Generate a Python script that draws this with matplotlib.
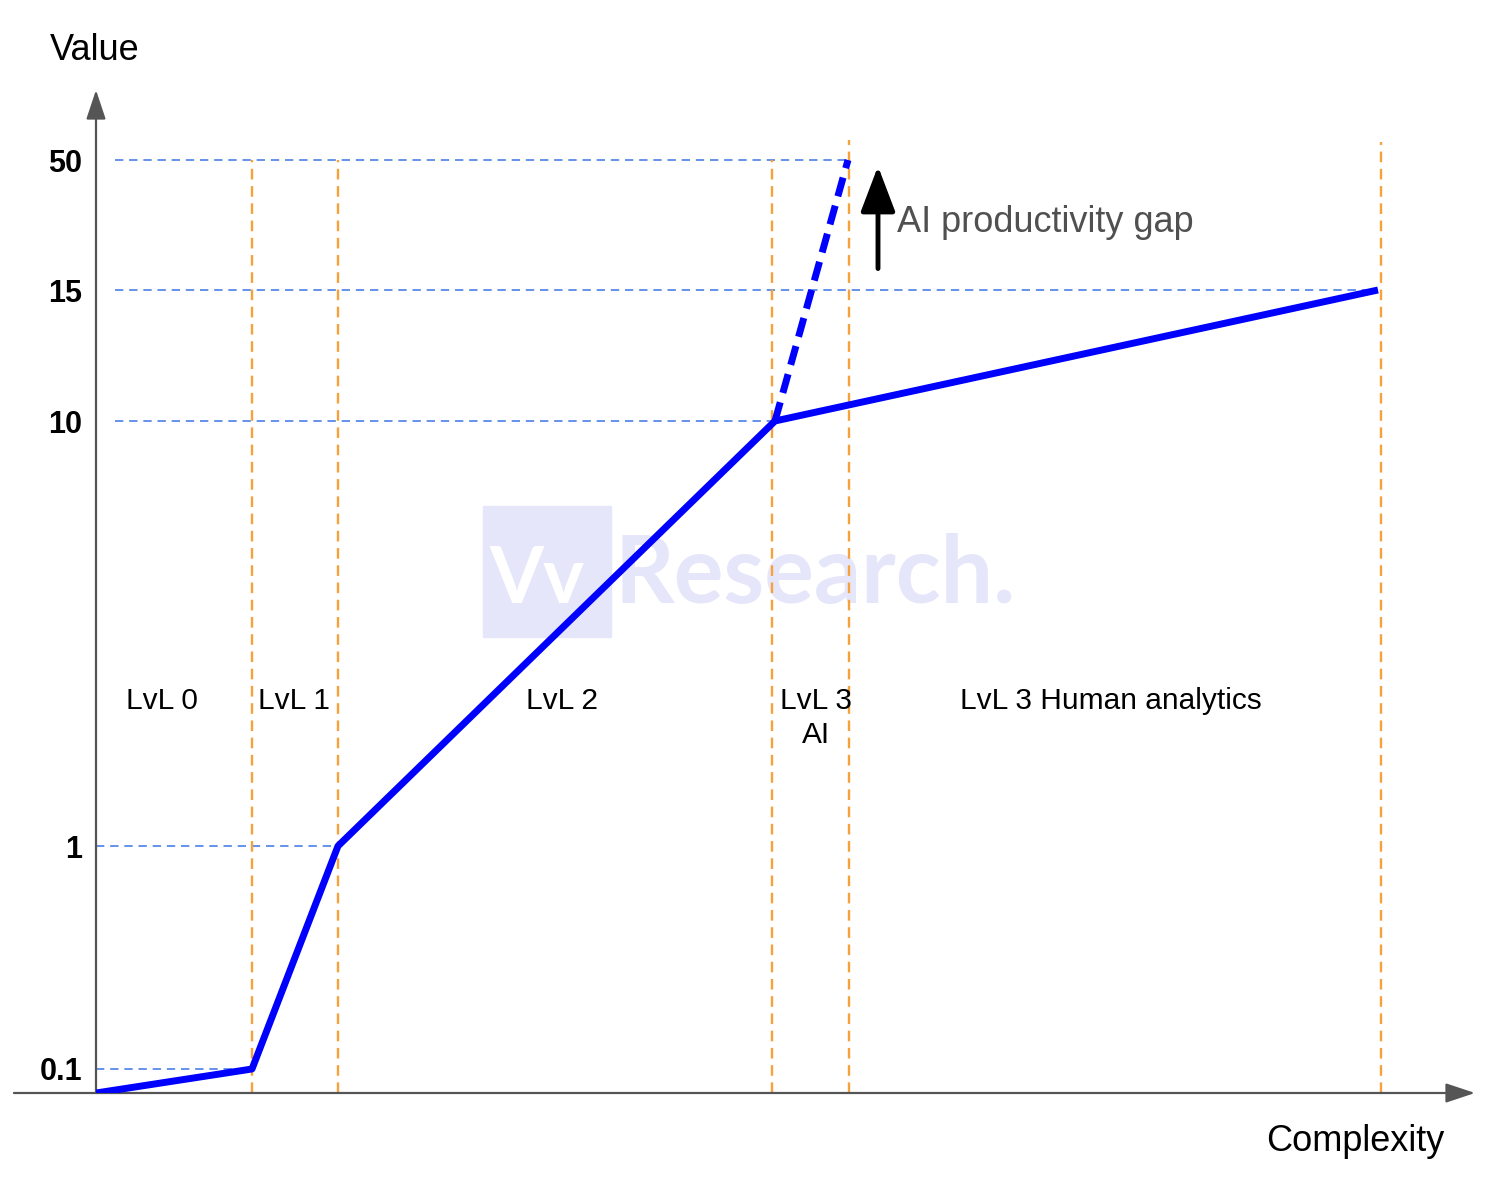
import matplotlib.pyplot as plt
import numpy as np
from matplotlib.patches import Rectangle
from matplotlib.transforms import blended_transform_factory

plt.rcParams['font.family'] = ['Liberation Sans', 'DejaVu Sans']

# data
complexity = [0, 156, 242, 679, 1282]
value = [0, 0.1, 1, 10, 15]
ai_complexity = [679, 752]
ai_value = [10, 50]
level_edges = [156, 242, 676, 753, 1285]
level_names = ['LvL 0', 'LvL 1', 'LvL 2', 'LvL 3\nAI', 'LvL 3 Human analytics']
level_centers = [66, 198, 466, 720, 1015]
tick_values = [0.1, 1, 10, 15, 50]

# hand-drawn (non-linear) value axis: value -> height
scale_vals = np.array([0, 0.1, 1, 10, 15, 50, 80])
scale_pos = np.array([0, 24, 247, 672, 803, 933, 1003])


def fwd(v):
    return np.interp(v, scale_vals, scale_pos)


def inv(p):
    return np.interp(p, scale_pos, scale_vals)


W, H = 1494, 1186
fig = plt.figure(figsize=(W / 100, H / 100), dpi=100)
ax = fig.add_axes([96 / W, (H - 1093) / H, 1379 / W, 1003 / H])
ax.set_yscale('function', functions=(fwd, inv))
ax.set_xlim(0, 1379)
ax.set_ylim(0, 80)
for s in ax.spines.values():
    s.set_visible(False)
ax.set_xticks([])
ax.set_yticks(tick_values)
ax.set_yticklabels([str(t) for t in tick_values], fontsize=22, fontweight='bold')
ax.tick_params(axis='y', length=0, pad=10)
ax.minorticks_off()
ax.set_facecolor('none')

guide_blue = '#4a7fe6'
guide_orange = '#f7a13a'

# blue horizontal guides
ax.plot([19, ai_complexity[1]], [50, 50], color=guide_blue, lw=1.2, ls=(0, (5, 3.5)))
ax.plot([19, complexity[4]], [15, 15], color=guide_blue, lw=1.2, ls=(0, (5, 3.5)))
ax.plot([19, complexity[3]], [10, 10], color=guide_blue, lw=1.2, ls=(0, (5, 3.5)))
ax.plot([0, complexity[2]], [1, 1], color=guide_blue, lw=1.2, ls=(0, (5, 3.5)))
ax.plot([0, complexity[1]], [0.1, 0.1], color=guide_blue, lw=1.2, ls=(0, (5, 3.5)))

# orange level boundaries
tops = [0.930, 0.930, 0.930, 0.950, 0.948]
for xe, t in zip(level_edges, tops):
    ax.axvline(xe, ymin=0, ymax=t, color=guide_orange, lw=1.7, ls=(0, (4.5, 2.8)))


# watermark (behind everything)
def px(x, y):
    return x / W, 1 - y / H


fig.patches.append(Rectangle(px(483, 637), 128 / W, 131 / H, transform=fig.transFigure,
                             color='#e6e6fa', zorder=-2))
fig.text(*px(489, 603), 'Vv', color='white', fontsize=56, fontweight='bold',
         family='Lato', va='baseline', zorder=-1)
fig.text(*px(614, 603), 'Research.', color='#e6e6fa', fontsize=67, fontweight='bold',
         family='Lato', va='baseline', zorder=-1)

# main curve
ax.plot(complexity, value, color='#0000ff', lw=5, solid_capstyle='butt', zorder=5)
ax.plot(ai_complexity, ai_value, color='#0000ff', lw=5, ls=(0, (2.8, 1.4)), zorder=5)

# level labels
tr = blended_transform_factory(ax.transData, ax.transAxes)
for name, xc in zip(level_names, level_centers):
    ax.text(xc, 0.405, name, transform=tr, ha='center', va='top', fontsize=21.5,
            linespacing=1.3)

# AI productivity gap arrow
ax.annotate('', xy=(782, 0.924), xytext=(782, 0.822), xycoords=tr, textcoords=tr,
            arrowprops=dict(arrowstyle='-|>,head_width=0.38,head_length=1.0',
                            color='black', lw=3.5, mutation_scale=28, shrinkA=0, shrinkB=0))
ax.text(801, 0.868, 'AI productivity gap', transform=tr, fontsize=26, color='#505050',
        va='center', ha='left')

# axes arrows
ax.annotate('', xy=(0, 1.0), xytext=(0, 0), xycoords='axes fraction',
            arrowprops=dict(arrowstyle='-|>,head_width=0.3,head_length=0.9', color='#555555',
                            lw=1.6, mutation_scale=20, shrinkA=0, shrinkB=0),
            annotation_clip=False)
ax.annotate('', xy=(1.0, 0), xytext=(-0.0595, 0), xycoords='axes fraction',
            arrowprops=dict(arrowstyle='-|>,head_width=0.3,head_length=0.9', color='#555555',
                            lw=1.6, mutation_scale=20, shrinkA=0, shrinkB=0),
            annotation_clip=False)

fig.text(*px(50, 60), 'Value', fontsize=26, va='baseline', ha='left')
fig.text(*px(1444, 1151), 'Complexity', fontsize=26, va='baseline', ha='right')

fig.savefig('out.png', dpi=100, facecolor='white')
